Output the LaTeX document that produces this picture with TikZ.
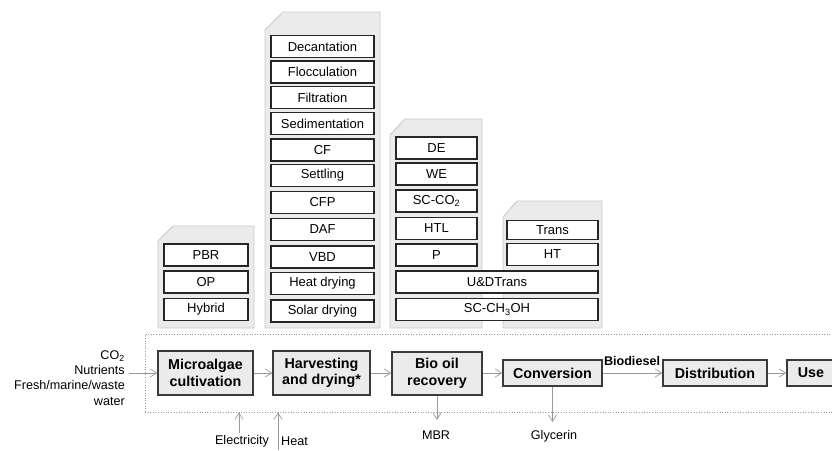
\documentclass[tikz,border=0pt]{standalone}
\usepackage{fontspec}
\setmainfont{Liberation Sans}
\usetikzlibrary{arrows.meta}
\definecolor{panelfill}{HTML}{EBEBEB}
\definecolor{paneldraw}{HTML}{C8C8C8}
\definecolor{boxdraw}{HTML}{3A3A3A}
\definecolor{arrgray}{HTML}{9A9A9A}
\tikzset{
  panel/.style={draw=paneldraw, fill=panelfill, line width=0.9pt},
  ibox/.style={draw=black!85, line width=1.1pt, fill=white, inner sep=0pt,
    minimum height=22pt, font=\fontsize{13}{15}\selectfont},
  mbox/.style={draw=boxdraw, line width=1.2pt, fill=panelfill, inner sep=0pt,
    align=center, font=\bfseries\fontsize{14.3}{16.5}\selectfont},
  arr/.style={draw=arrgray, line width=0.7pt, -{Straight Barb[length=6.5pt,width=8pt]}},
  lbl/.style={inner sep=0pt, font=\fontsize{12.6}{15.3}\selectfont},
  zone/.style={draw=arrgray, dotted, line width=0.6pt, inner sep=0pt}
}
\begin{document}
\begin{tikzpicture}[x=1pt,y=-1pt]
\useasboundingbox (0,0) rectangle (832,450);

% panels
\draw[panel] (158,241) -- (173,226) -- (254,226) -- (254,328) -- (158,328) -- cycle;
\draw[panel] (265,30) -- (283,12) -- (380,12) -- (380,328) -- (265,328) -- cycle;
\draw[panel] (390,135) -- (405,119) -- (482,119) -- (482,328) -- (390,328) -- cycle;
\draw[panel] (503,217) -- (517,201) -- (602,201) -- (602,328) -- (503,328) -- cycle;

% panel 1
\begin{scope}[every node/.style={ibox, minimum width=84pt}]
\node (pbr) at (206,255) {PBR};
\node (op) at (206,282) {OP};
\node (hyb) at (206,309.5) {Hybrid};
\end{scope}

% panel 2
\begin{scope}[every node/.style={ibox, minimum width=103pt}]
\node (dec) at (322.5,46.5) {Decantation};
\node (flo) at (322.5,72) {Flocculation};
\node (fil) at (322.5,97.5) {Filtration};
\node (sed) at (322.5,123.5) {Sedimentation};
\node (cf) at (322.5,150) {CF};
\node (set) at (322.5,175.5) {Settling};
\node (cfp) at (322.5,202.5) {CFP};
\node (daf) at (322.5,229.5) {DAF};
\node (vbd) at (322.5,257) {VBD};
\node (hd) at (322.5,283.5) {Heat drying};
\node (sd) at (322.5,311) {Solar drying};
\end{scope}

% panel 3
\begin{scope}[every node/.style={ibox, minimum width=81pt}]
\node (de) at (436.5,148) {DE};
\node (we) at (436.5,174) {WE};
\node (scco) at (436.5,201) {SC-CO\textsubscript{2}};
\node (htl) at (436.5,228.5) {HTL};
\node (p) at (436.5,255) {P};
\end{scope}
\node[ibox, minimum width=202pt] (udt) at (497,282) {U\&DTrans};
\node[ibox, minimum width=202pt] (scch) at (497,309.5) {SC-CH\textsubscript{3}OH};

% panel 4
\begin{scope}[every node/.style={ibox, minimum width=91pt}]
\node[minimum height=19pt] (trans) at (552.5,230) {Trans};
\node (ht) at (552.5,254.5) {HT};
\end{scope}

% dotted zone
\node[zone, minimum width=700pt, minimum height=78pt] (zn) at (495,373) {};

% main chain
\node[mbox, minimum width=95pt, minimum height=44pt] (cult) at (205.5,373) {Microalgae\\cultivation};
\node[mbox, minimum width=97pt, minimum height=44pt] (harv) at (321.5,373) {Harvesting\\and drying*};
\node[mbox, minimum width=90pt, minimum height=43pt] (bio) at (437,373.5) {Bio oil\\recovery};
\node[mbox, minimum width=99pt, minimum height=26pt] (conv) at (552.5,373) {Conversion};
\node[mbox, minimum width=104pt, minimum height=26pt] (dist) at (715,373) {Distribution};
\node[mbox, minimum width=48pt, minimum height=26pt] (use) at (811,373) {Use};

% inputs
\node[lbl, align=right, anchor=east] (inp) at (125,378) {CO\textsubscript{2}\\Nutrients\\Fresh/marine/waste\\water};
\coordinate (inpt) at (129,373);
\draw[arr] (inpt) -- (cult.west);

\draw[arr] (cult.east) -- (harv.west);
\draw[arr] (harv.east) -- (bio.west |- harv.east);
\draw[arr] (bio.east |- conv.west) -- (conv.west);
\draw[arr] (conv.east) -- (dist.west);
\draw[arr] (dist.east) -- (use.west);
\node[lbl, font=\bfseries\fontsize{12.6}{15}\selectfont] (biod) at (632,361) {Biodiesel};

% bottom
\node[lbl] (elec) at (242,441) {Electricity};
\node[lbl, anchor=west] (heat) at (281,441) {Heat};
\coordinate (e1) at (239,433);
\coordinate (h1) at (278,450);
\draw[arr] (e1) -- (e1 |- zn.south);
\draw[arr] (h1) -- (h1 |- zn.south);

\node[lbl] (mbr) at (436,435) {MBR};
\node[lbl] (gly) at (554,436) {Glycerin};
\coordinate (mbrtip) at (437,420);
\coordinate (glytip) at (552.5,422);
\draw[arr] (bio.south) -- (mbrtip);
\draw[arr] (conv.south) -- (glytip);
\end{tikzpicture}
\end{document}
